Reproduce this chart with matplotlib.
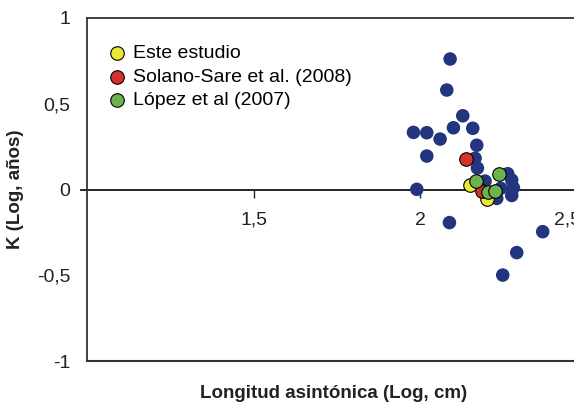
import matplotlib
matplotlib.use("Agg")
import matplotlib.pyplot as plt
import matplotlib.transforms as mtransforms

plt.rcParams['font.family'] = ['Liberation Sans', 'DejaVu Sans']

# otros estudios (azul)
otros_x = [2.090, 2.080, 2.128, 1.980, 2.020, 2.060, 2.100, 2.158, 2.170, 2.020,
           2.165, 2.172, 1.990, 2.088, 2.195, 2.263, 2.275, 2.280, 2.275, 2.230,
           2.242, 2.368, 2.290, 2.248]
otros_y = [0.761, 0.580, 0.430, 0.333, 0.331, 0.294, 0.360, 0.357, 0.258, 0.195,
           0.182, 0.125, 0.001, -0.193, 0.049, 0.092, 0.055, 0.010, -0.035, -0.052,
           0.007, -0.246, -0.368, -0.499]

este_x = [2.150, 2.200]
este_y = [0.026, -0.057]

solano_x = [2.137, 2.185]
solano_y = [0.180, -0.009]

lopez_x = [2.238, 2.168, 2.205, 2.225]
lopez_y = [0.092, 0.051, -0.013, -0.007]

xticks = [1.5, 2, 2.5]
xticklabels = ["1,5", "2", "2,5"]
yticks = [-1, -0.5, 0, 0.5, 1]
yticklabels = ["-1", "-0,5", "0", "0,5", "1"]

fig = plt.figure(figsize=(5.74, 4.03), dpi=100)
ax = fig.add_axes([87 / 574, 1 - 361 / 403, 533 / 574, 343 / 403])

ax.set_xlim(1, 2.6)
ax.set_ylim(-1, 1)

s = 95
ax.scatter(otros_x, otros_y, s=s, color="#24357f", edgecolors="none", zorder=3)
ax.scatter(este_x, este_y, s=s, color="#e8e835", edgecolors="black", linewidths=0.8,
           zorder=4, label="Este estudio")
ax.scatter(solano_x, solano_y, s=s, color="#d63031", edgecolors="black", linewidths=0.8,
           zorder=4, label="Solano-Sare et al. (2008)")
ax.scatter(lopez_x, lopez_y, s=s, color="#6cb24e", edgecolors="black", linewidths=0.8,
           zorder=4, label="López et al (2007)")

# ejes
ax.spines['bottom'].set_position(('data', 0))
ax.spines['bottom'].set_visible(False)
ax.axhline(0, xmin=-0.012, color="black", lw=1.2, clip_on=False, zorder=2)
ax.axhline(-1, color="#333333", lw=1.5, clip_on=False)
for sp in ['left', 'top', 'right']:
    ax.spines[sp].set_linewidth(1.3)
    ax.spines[sp].set_color("#333333")

ax.set_xticks(xticks)
ax.set_xticklabels(xticklabels)
ax.set_yticks(yticks)
ax.set_yticklabels(yticklabels)
ax.tick_params(axis='x', direction='out', length=6, width=1, pad=10, labelsize=14,
               colors="#222222")
ax.tick_params(axis='y', length=0, pad=12, labelsize=14, colors="#222222")
ax.xaxis.get_major_ticks()[-1].tick1line.set_visible(False)

# la etiqueta 2,5 se corre a la izquierda como en la figura original
last = ax.get_xticklabels()[-1]
last.set_ha("right")
last.set_transform(last.get_transform() +
                   mtransforms.ScaledTranslation(-0.06, 0, fig.dpi_scale_trans))

ax.legend(loc="upper left", bbox_to_anchor=(0.022, 0.945), frameon=False, fontsize=14,
          handletextpad=0.25, labelspacing=0.3, borderaxespad=0, handlelength=1.1,
          scatterpoints=1)

fig.text(334 / 574, 1 - 393 / 403, "Longitud asintónica (Log, cm)", ha="center",
         va="center", fontsize=13.5, fontweight="bold", color="#222222")
fig.text(16 / 574, 1 - 189 / 403, "K (Log, años)", ha="center", va="center",
         rotation=90, fontsize=13.5, fontweight="bold", color="#222222")

fig.savefig("out.png", dpi=100)
